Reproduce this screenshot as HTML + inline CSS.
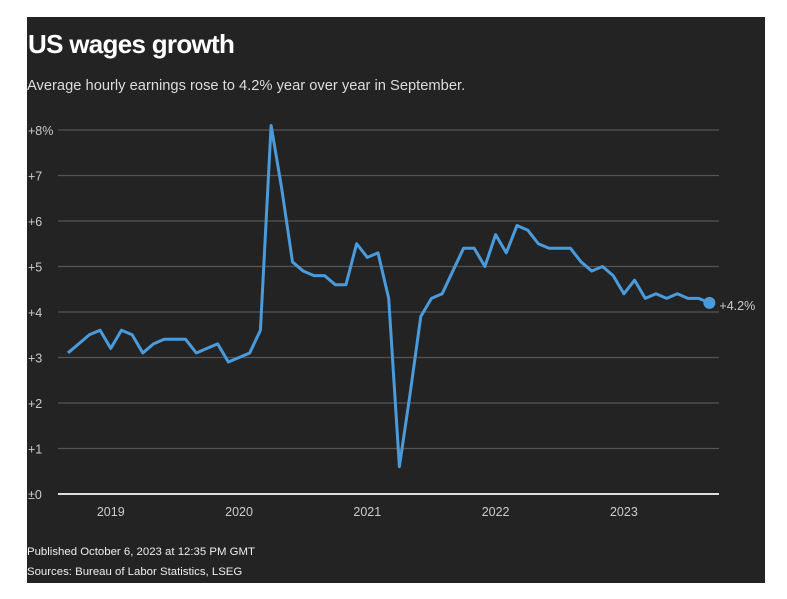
<!DOCTYPE html>
<html><head><meta charset="utf-8"><style>
body{margin:0;background:#fff;width:787px;height:599px;overflow:hidden;font-family:"Liberation Sans",sans-serif}
#panel{position:absolute;left:27px;top:17px;width:738px;height:566px;background:#232323}
.t{position:absolute;color:#fff;white-space:nowrap}
</style></head><body>
<div id="panel"></div>
<div class="t" style="left:28px;top:29px;font-size:26px;font-weight:bold;letter-spacing:-0.7px">US wages growth</div>
<div class="t" style="left:27px;top:78px;font-size:14.7px;color:#ddd">Average hourly earnings rose to 4.2% year over year in September.</div>
<svg id="chart" width="787" height="599" style="position:absolute;left:0;top:0"></svg>
<div class="t" style="left:27px;top:546px;font-size:11.4px;color:#eee">Published October 6, 2023 at 12:35 PM GMT</div>
<div class="t" style="left:27px;top:566px;font-size:11.4px;color:#eee">Sources: Bureau of Labor Statistics, LSEG</div>
<script>
const yTicks=[0,1,2,3,4,5,6,7,8];
const yTickLabels=["±0","+1","+2","+3","+4","+5","+6","+7","+8%"];
const xYears=[2019,2020,2021,2022,2023];
const startYear=2018, startMonth=8; // Sep 2018 (0-based month)
const values=[3.1,3.3,3.5,3.6,
3.2,3.6,3.5,3.1,3.3,3.4,3.4,3.4,3.1,3.2,3.3,2.9,
3.0,3.1,3.6,8.1,6.7,5.1,4.9,4.8,4.8,4.6,4.6,5.5,
5.2,5.3,4.3,0.6,2.2,3.9,4.3,4.4,4.9,5.4,5.4,5.0,
5.7,5.3,5.9,5.8,5.5,5.4,5.4,5.4,5.1,4.9,5.0,4.8,
4.4,4.7,4.3,4.4,4.3,4.4,4.3,4.3,4.2];
const lastLabel="+4.2%";
const svg=document.getElementById('chart');
const NS='http://www.w3.org/2000/svg';
const y=v=>494-v*45.5;
const x=i=>68+i*10.69;
const xm=(yr,m)=>x((yr-startYear)*12+m-startMonth);
function mk(t,a){const e=document.createElementNS(NS,t);for(const k in a)e.setAttribute(k,a[k]);svg.appendChild(e);return e;}
yTicks.forEach((v,i)=>{
 const l=mk('line',{x1:58,x2:719,y1:y(v),y2:y(v),stroke:v===0?'#ddd':'#555','stroke-width':v===0?2:1.2});
 
 
 const t=mk('text',{x:28,y:y(v)+5,fill:'#ccc','font-size':12.5,'font-family':'Liberation Sans'});
 t.textContent=yTickLabels[i];
 
 
});
xYears.forEach(yr=>{
 const t=mk('text',{x:xm(yr,0),y:516,fill:'#ccc','font-size':12.5,'text-anchor':'middle','font-family':'Liberation Sans'});
 t.textContent=yr;
 
 
});
const p=mk('polyline',{points:values.map((v,i)=>x(i)+','+y(v)).join(' '),fill:'none',stroke:'#4a9bdc','stroke-width':3,'stroke-linejoin':'round'});


const n=values.length-1;
const c=mk('circle',{cx:x(n),cy:y(values[n]),r:6,fill:'#4a9bdc'});


const lt=mk('text',{x:x(n)+10,y:y(values[n])+7,fill:'#ccc','font-size':12.5,'font-family':'Liberation Sans'});
lt.textContent=lastLabel;


</script>
</body></html>
